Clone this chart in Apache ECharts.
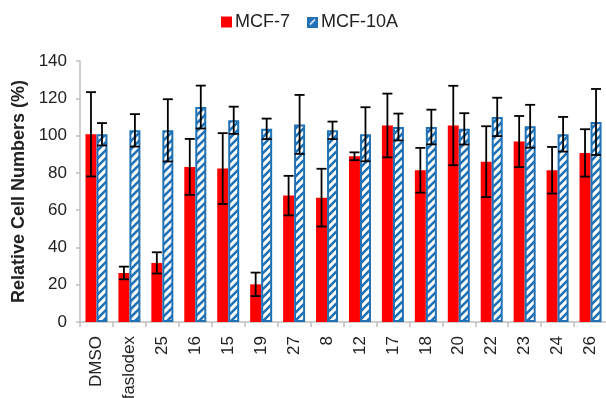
<!DOCTYPE html>
<html>
<head>
<meta charset="utf-8">
<script src="https://cdn.jsdelivr.net/npm/echarts@6/dist/echarts.min.js"></script>
<style>
html,body{margin:0;padding:0;background:#fff;}
#c{width:606px;height:398px;}
</style>
</head>
<body>
<div id="c"></div>
<script>
var categories = ['DMSO','faslodex','25','16','15','19','27','8','12','17','18','20','22','23','24','26'];
var mcf7 = [100.7, 26.3, 31.7, 83.2, 82.3, 20.2, 67.8, 66.7, 88.9, 105.4, 81.4, 105.4, 86.0, 96.8, 81.4, 90.7];
var mcf7Err = [22.6, 3.4, 5.7, 15.0, 19.0, 6.3, 10.6, 15.5, 2.1, 17.1, 12.0, 21.3, 19.0, 13.7, 12.5, 12.7];
var mcf10a = [100.7, 102.8, 102.8, 115.3, 108.2, 103.6, 106.0, 102.8, 100.7, 104.6, 104.6, 103.6, 110.0, 105.0, 100.7, 107.3];
var mcf10aErr = [6.0, 8.7, 16.7, 11.5, 7.3, 5.5, 15.8, 4.7, 14.5, 7.2, 9.3, 8.4, 10.3, 11.5, 9.3, 17.7];
var yTicks = [0, 20, 40, 60, 80, 100, 120, 140];

var BLUE = '#2171b5';
var BW = 11;

function makePattern() {
  var p = 8;
  var cv = document.createElement('canvas');
  cv.width = p; cv.height = p;
  var ctx = cv.getContext('2d');
  ctx.fillStyle = '#ffffff';
  ctx.fillRect(0, 0, p, p);
  ctx.strokeStyle = BLUE;
  ctx.lineWidth = 2.6;
  ctx.beginPath();
  ctx.moveTo(-p, p * 2); ctx.lineTo(p * 2, -p);
  ctx.moveTo(-p * 2, p * 2); ctx.lineTo(p, -p);
  ctx.moveTo(0, p * 2); ctx.lineTo(p * 3, -p);
  ctx.stroke();
  return cv;
}
function makeLegendIcon() {
  var s = 22;
  var cv = document.createElement('canvas');
  cv.width = s; cv.height = s;
  var ctx = cv.getContext('2d');
  ctx.fillStyle = BLUE;
  ctx.fillRect(0, 0, s, s);
  ctx.strokeStyle = '#ffffff';
  ctx.lineWidth = 3;
  ctx.beginPath();
  ctx.moveTo(6, 16); ctx.lineTo(16, 6);
  ctx.stroke();
  return cv.toDataURL();
}
var pattern = { image: makePattern(), repeat: 'repeat' };

function errSeries(name, vals, errs, offset) {
  var d = vals.map(function (v, i) { return [i, v, errs[i]]; });
  return {
    type: 'custom',
    name: name + ' err',
    z: 10,
    silent: true,
    encode: { x: 0, y: 1 },
    data: d,
    renderItem: function (params, api) {
      var i = api.value(0), v = api.value(1), e = api.value(2);
      var top = api.coord([i, v + e]);
      var bot = api.coord([i, v - e]);
      var x = top[0] + offset;
      var cap = 5;
      var st = { stroke: '#000', lineWidth: 1.8 };
      return {
        type: 'group',
        children: [
          { type: 'line', shape: { x1: x, y1: top[1], x2: x, y2: bot[1] }, style: st },
          { type: 'line', shape: { x1: x - cap, y1: top[1], x2: x + cap, y2: top[1] }, style: st },
          { type: 'line', shape: { x1: x - cap, y1: bot[1], x2: x + cap, y2: bot[1] }, style: st }
        ]
      };
    }
  };
}

var chart = echarts.init(document.getElementById('c'));
chart.setOption({
  animation: false,
  textStyle: { fontFamily: 'Liberation Sans, Arial, sans-serif' },
  legend: {
    data: [
      { name: 'MCF-7', icon: 'rect' },
      { name: 'MCF-10A', icon: 'image://' + makeLegendIcon() }
    ],
    left: 216, top: 8,
    itemWidth: 11, itemHeight: 11, itemGap: 17,
    textStyle: { fontSize: 18, color: '#222', padding: [0, 0, 0, -2] }
  },
  grid: { left: 80, top: 61, width: 527, height: 261, containLabel: false, outerBoundsMode: 'none' },
  xAxis: {
    type: 'category',
    data: categories,
    axisLine: { lineStyle: { color: '#bfbfbf', width: 1.5 } },
    axisTick: { show: true, length: 5, lineStyle: { color: '#bfbfbf', width: 1.5 } },
    axisLabel: { rotate: 90, fontSize: 17, color: '#222', margin: 14, interval: 0 }
  },
  yAxis: {
    type: 'value',
    min: 0, max: 140, interval: 20,
    name: 'Relative Cell Numbers (%)',
    nameLocation: 'middle',
    nameRotate: 90,
    nameGap: 52,
    nameTextStyle: { fontSize: 18, fontWeight: 'bold', color: '#222' },
    axisLine: { show: true, lineStyle: { color: '#bfbfbf', width: 1.5 } },
    axisTick: { show: true, length: 4, lineStyle: { color: '#bfbfbf', width: 1.5 } },
    splitLine: { show: false },
    axisLabel: {
      fontSize: 17, color: '#222', margin: 13,
      formatter: function (v) { return yTicks.indexOf(v) >= 0 ? String(v) : ''; }
    }
  },
  series: [
    {
      name: 'MCF-7', type: 'bar', data: mcf7, barWidth: BW, barGap: '0%',
      itemStyle: { color: '#ff0000' }
    },
    {
      name: 'MCF-10A', type: 'bar', data: mcf10a, barWidth: BW, barGap: '0%',
      itemStyle: { color: pattern, borderColor: BLUE, borderWidth: 2 }
    },
    errSeries('MCF-7', mcf7, mcf7Err, -BW / 2),
    errSeries('MCF-10A', mcf10a, mcf10aErr, BW / 2)
  ]
});
</script>
</body>
</html>
